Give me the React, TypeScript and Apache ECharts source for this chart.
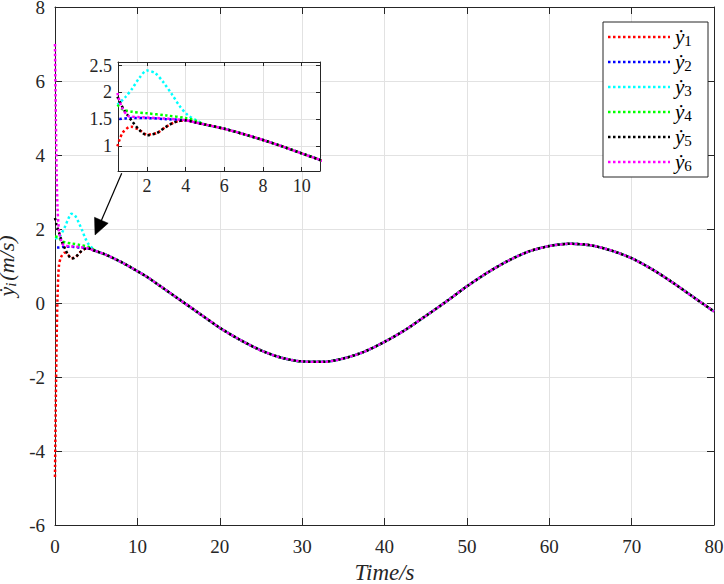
import React, { useEffect, useRef } from "react";
import * as echarts from "echarts";

// Common trajectory after the transients (time in s, value in m/s)
const tailT = [5, 6, 7, 8, 9, 10, 11, 12.5, 15, 17.5, 20, 22.5, 25, 27.5, 30, 32.5, 35, 37.5, 40, 42.5, 45, 47.5, 50, 52.5, 55, 57.5, 60, 62.5, 65, 67.5, 70, 72.5, 75, 77.5, 80];
const tailV = [1.4, 1.32, 1.22, 1.11, 0.99, 0.86, 0.73, 0.5, 0.11, -0.28, -0.67, -1.0, -1.28, -1.48, -1.58, -1.59, -1.5, -1.32, -1.05, -0.73, -0.35, 0.04, 0.45, 0.82, 1.14, 1.39, 1.54, 1.6, 1.56, 1.42, 1.21, 0.91, 0.55, 0.16, -0.23];

// Transient heads of each agent
const y1T = [0, 0.1, 0.2, 0.3, 0.47, 0.73, 1.17, 1.6, 2.0, 2.5, 3.0, 3.5, 4.0, 4.5];
const y1V = [-4.7, -2.6, -1.0, 0.1, 0.99, 1.24, 1.36, 1.3, 1.21, 1.24, 1.36, 1.45, 1.48, 1.44];
const y2T = [0, 0.47, 1.2, 2.0, 3.0, 4.0, 4.5];
const y2V = [1.5, 1.5, 1.52, 1.52, 1.5, 1.48, 1.44];
const y3T = [0, 0.47, 0.9, 1.25, 1.6, 2.0, 2.43, 2.87, 3.3, 3.7, 4.1, 4.6];
const y3V = [1.75, 1.77, 1.92, 2.08, 2.27, 2.41, 2.36, 2.18, 1.96, 1.74, 1.58, 1.47];
const y4T = [0, 0.47, 0.75, 1.2, 2.0, 3.0, 4.0, 4.5];
const y4V = [1.8, 1.77, 1.68, 1.64, 1.61, 1.57, 1.52, 1.47];
const y5T = [0, 0.2, 0.47, 0.8, 1.17, 1.6, 2.0, 2.5, 3.0, 3.5, 4.0, 4.5];
const y5V = [2.3, 2.1, 1.92, 1.68, 1.49, 1.3, 1.2, 1.24, 1.36, 1.45, 1.48, 1.44];
const y6T = [0, 0.1, 0.2, 0.3, 0.47, 0.7, 1.09, 1.5, 2.0, 3.0, 4.0, 4.5];
const y6V = [7.0, 5.0, 3.5, 2.6, 1.99, 1.72, 1.55, 1.54, 1.53, 1.51, 1.48, 1.44];

const seriesNames = ["y1", "y2", "y3", "y4", "y5", "y6"];
const legendSubs = ["1", "2", "3", "4", "5", "6"];
const seriesColors = ["#ff0000", "#0000ff", "#00ffff", "#00ff00", "#000000", "#ff00ff"];
const heads: [number[], number[]][] = [
  [y1T, y1V],
  [y2T, y2V],
  [y3T, y3V],
  [y4T, y4V],
  [y5T, y5V],
  [y6T, y6V],
];

const mainX = { min: 0, max: 80, interval: 10 };
const mainY = { min: -6, max: 8, interval: 2 };
const insetX = { min: 0.5, max: 10.95 };
const insetY = { min: 0.53, max: 2.57 };

const FONT = "Liberation Serif";
const AXIS_COLOR = "#262626";
const GRID_COLOR = "#e2e2e2";

function buildData(t: number[], v: number[]) {
  const pts: number[][] = t.map((x, i) => [x, v[i]]);
  tailT.forEach((x, i) => pts.push([x, tailV[i]]));
  return pts;
}

export default function App() {
  const ref = useRef<HTMLDivElement>(null);
  useEffect(() => {
    if (!ref.current) return;
    const chart = echarts.init(ref.current, undefined, { renderer: "svg" });
    const dashOffsets = [0, 2.5, 0, 0, 0, 0];
    const series: any[] = [];
    seriesNames.forEach((name, i) => {
      const data = buildData(heads[i][0], heads[i][1]);
      const base = {
        name,
        type: "line",
        showSymbol: false,
        symbol: "none",
        smooth: 0.3,
        clip: true,
        lineStyle: {
          color: seriesColors[i],
          width: 2.5,
          type: [2.5, 2.5],
          dashOffset: dashOffsets[i],
        },
        itemStyle: { color: seriesColors[i] },
        emphasis: { disabled: true },
      };
      series.push({ ...base, data, xAxisIndex: 0, yAxisIndex: 0, z: 2 });
      series.push({
        ...base,
        data: data.filter((p) => p[0] >= insetX.min - 0.1),
        xAxisIndex: 2,
        yAxisIndex: 2,
        z: 6,
      });
    });

    const labelStyle = { color: AXIS_COLOR, fontFamily: FONT, fontSize: 19, lineHeight: 13 };
    const insetLabel = { color: AXIS_COLOR, fontFamily: FONT, fontSize: 18, lineHeight: 13 };
    const lineStyle = { show: true, onZero: false, lineStyle: { color: AXIS_COLOR, width: 1 } };

    const legendElems: any[] = [
      {
        type: "rect",
        z: 30,
        shape: { x: 603, y: 22, width: 105, height: 155 },
        style: { fill: "#ffffff", stroke: AXIS_COLOR, lineWidth: 1 },
      },
    ];
    seriesNames.forEach((_, i) => {
      const cy = 37 + 25 * i;
      legendElems.push({
        type: "line",
        z: 31,
        shape: { x1: 608, y1: cy, x2: 670, y2: cy },
        style: { stroke: seriesColors[i], lineWidth: 2.5, lineDash: [2.5, 2.5] },
      });
      legendElems.push({
        type: "text",
        z: 31,
        x: 675,
        y: cy,
        style: {
          text: `{y|ẏ}{s|${legendSubs[i]}}`,
          verticalAlign: "middle",
          align: "left",
          rich: {
            y: { fontFamily: FONT, fontStyle: "italic", fontSize: 21, fill: "#000", lineHeight: 20 },
            s: { fontFamily: FONT, fontSize: 15, fill: "#000", lineHeight: 14, padding: [8, 0, 0, 0] },
          },
        },
      });
    });

    const option: any = {
      animation: false,
      backgroundColor: "#ffffff",
      textStyle: { fontFamily: FONT, color: AXIS_COLOR },
      grid: [
        { left: 55, right: 10, top: 7, bottom: 59, containLabel: false, outerBoundsMode: "none" },
        {
          left: 118,
          top: 62,
          width: 202,
          height: 109,
          show: true,
          backgroundColor: "#ffffff",
          borderWidth: 0,
          z: 3,
          containLabel: false,
          outerBoundsMode: "none",
        },
      ],
      xAxis: [
        {
          gridIndex: 0,
          type: "value",
          position: "bottom",
          ...mainX,
          axisLine: lineStyle,
          axisTick: { show: true, inside: true, length: 7, lineStyle: { color: AXIS_COLOR } },
          axisLabel: { ...labelStyle, margin: 15 },
          splitLine: { show: true, lineStyle: { color: GRID_COLOR, width: 1 } },
          name: "Time/s",
          nameLocation: "middle",
          nameGap: 31,
          nameTextStyle: { fontFamily: FONT, fontStyle: "italic", fontSize: 23, lineHeight: 24, color: AXIS_COLOR },
        },
        {
          gridIndex: 0,
          type: "value",
          position: "top",
          ...mainX,
          axisLine: lineStyle,
          axisTick: { show: true, inside: true, length: 7, lineStyle: { color: AXIS_COLOR } },
          axisLabel: { show: false },
          splitLine: { show: false },
        },
        {
          gridIndex: 1,
          type: "value",
          position: "bottom",
          ...insetX,
          z: 4,
          axisLine: lineStyle,
          axisTick: { show: true, inside: true, length: 4, lineStyle: { color: AXIS_COLOR } },
          axisLabel: { ...insetLabel, margin: 8, showMinLabel: false, showMaxLabel: false },
          splitLine: { show: true, lineStyle: { color: GRID_COLOR, width: 1 } },
        },
        {
          gridIndex: 1,
          type: "value",
          position: "top",
          ...insetX,
          z: 4,
          axisLine: lineStyle,
          axisTick: { show: true, inside: true, length: 4, lineStyle: { color: AXIS_COLOR } },
          axisLabel: { show: false },
          splitLine: { show: false },
        },
      ],
      yAxis: [
        {
          gridIndex: 0,
          type: "value",
          position: "left",
          ...mainY,
          axisLine: lineStyle,
          axisTick: { show: true, inside: true, length: 7, lineStyle: { color: AXIS_COLOR } },
          axisLabel: { ...labelStyle, margin: 10 },
          splitLine: { show: true, lineStyle: { color: GRID_COLOR, width: 1 } },
          name: "{a|ẏ}{b|i}{a|(m/s)}",
          nameLocation: "middle",
          nameGap: 27,
          nameTextStyle: {
            color: AXIS_COLOR,
            fontFamily: FONT,
            rich: {
              a: { fontFamily: FONT, fontStyle: "italic", fontSize: 22, color: AXIS_COLOR, lineHeight: 22 },
              b: { fontFamily: FONT, fontStyle: "italic", fontSize: 15, color: AXIS_COLOR, lineHeight: 12, padding: [9, 2, 0, 0] },
            },
          },
        },
        {
          gridIndex: 0,
          type: "value",
          position: "right",
          ...mainY,
          axisLine: lineStyle,
          axisTick: { show: true, inside: true, length: 7, lineStyle: { color: AXIS_COLOR } },
          axisLabel: { show: false },
          splitLine: { show: false },
        },
        {
          gridIndex: 1,
          type: "value",
          position: "left",
          ...insetY,
          z: 4,
          axisLine: lineStyle,
          axisTick: { show: true, inside: true, length: 4, lineStyle: { color: AXIS_COLOR } },
          axisLabel: { ...insetLabel, margin: 6, showMinLabel: false, showMaxLabel: false },
          splitLine: { show: true, lineStyle: { color: GRID_COLOR, width: 1 } },
        },
        {
          gridIndex: 1,
          type: "value",
          position: "right",
          ...insetY,
          z: 4,
          axisLine: lineStyle,
          axisTick: { show: true, inside: true, length: 4, lineStyle: { color: AXIS_COLOR } },
          axisLabel: { show: false },
          splitLine: { show: false },
        },
      ],
      graphic: [
        {
          type: "line",
          z: 20,
          shape: { x1: 121.7, y1: 173.3, x2: 99, y2: 226 },
          style: { stroke: "#000", lineWidth: 1.2 },
        },
        {
          type: "polygon",
          z: 20,
          shape: { points: [[95, 235], [108.2, 223.2], [94.5, 217.3]] },
          style: { fill: "#000", stroke: "#000", lineWidth: 0.5 },
        },
        ...legendElems,
      ],
      series,
    };
    chart.setOption(option);
    return () => chart.dispose();
  }, []);
  return <div ref={ref} style={{ width: 724, height: 584, position: "absolute", left: 0, top: 0 }} />;
}
